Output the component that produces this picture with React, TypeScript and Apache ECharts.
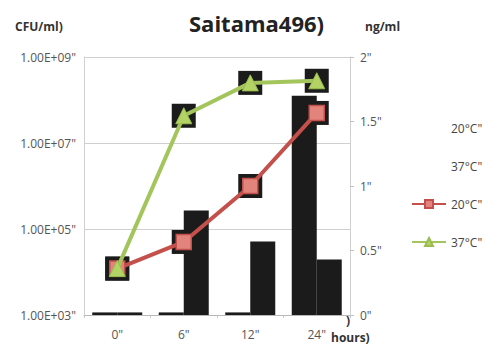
import React, { useEffect, useRef } from "react";
import * as echarts from "echarts";

// Sampling times (hours)
const categories = ['0"', '6"', '12"', '24"'];

// Toxin concentration, ng/ml (right axis, bars)
const toxin20 = [0.02, 0.02, 0.02, 1.7];
const toxin37 = [0.02, 0.81, 0.57, 0.43];

// Viable count, CFU/ml (left log axis, lines)
const cfu20 = [1.2e4, 5e4, 1e6, 5e7];
const cfu37 = [1.2e4, 4.3e7, 2.5e8, 2.8e8];

// Right axis tick labels
const rightTicks: Record<string, string> = {
  "0": '0"',
  "0.5": '0.5"',
  "1": '1"',
  "1.5": '1.5"',
  "2": '2"',
};

const legendLabels: Record<string, string> = {
  toxin20: '20°C"',
  toxin37: '37°C"',
  cfu20: '20°C"',
  cfu37: '37°C"',
};

const FONT = "'Open Sans', 'DejaVu Sans', sans-serif";
const RED = "#c4504b";
const GREEN = "#a3c55c";
const BAR = "#1b1b1b";

export default function App() {
  const ref = useRef<HTMLDivElement>(null);

  useEffect(() => {
    if (!ref.current) return;
    document.body.style.margin = "0";
    const chart = echarts.init(ref.current, undefined, { renderer: "svg" });

    chart.setOption({
      animation: false,
      backgroundColor: "#ffffff",
      textStyle: { fontFamily: FONT },
      title: {
        text: "Saitama496)",
        left: 184,
        top: 7,
        textStyle: { fontFamily: FONT, fontSize: 22, fontWeight: "bold", color: "#222" },
      },
      legend: {
        orient: "vertical",
        left: 406,
        top: 117,
        itemWidth: 34,
        itemHeight: 10,
        itemGap: 26,
        textStyle: { fontFamily: FONT, fontSize: 12, color: "#444" },
        formatter: (name: string) => legendLabels[name] ?? name,
        data: [
          { name: "toxin20", itemStyle: { opacity: 0 } },
          { name: "toxin37", itemStyle: { opacity: 0 } },
          "cfu20",
          "cfu37",
        ],
      },
      grid: { left: 84, right: 134, top: 57, bottom: 38 },
      xAxis: {
        type: "category",
        data: categories,
        boundaryGap: true,
        axisLine: { lineStyle: { color: "#b8b8b8" } },
        axisTick: { show: true, length: 3, lineStyle: { color: "#c8c8c8" } },
        axisLabel: { color: "#555", fontSize: 12, margin: 13 },
      },
      yAxis: [
        {
          type: "log",
          logBase: 10,
          min: 1e3,
          max: 1e9,
          interval: 1,
          axisLine: { show: true, lineStyle: { color: "#d0d0d0" } },
          axisTick: { show: false },
          axisLabel: {
            color: "#555",
            fontSize: 12,
            margin: 8,
            formatter: (v: number) => {
              const e = Math.round(Math.log10(v));
              return e % 2 === 1 ? `1.00E+0${e}"` : "";
            },
          },
          splitLine: {
            show: true,
            lineStyle: { color: ["#cfcfcf", "rgba(0,0,0,0)"], width: 1 },
          },
        },
        {
          type: "value",
          min: 0,
          max: 2,
          interval: 0.5,
          position: "right",
          axisLine: { show: true, lineStyle: { color: "#d0d0d0" } },
          axisTick: { show: true, length: 4, lineStyle: { color: "#c0c0c0" } },
          axisLabel: {
            color: "#555",
            fontSize: 12,
            margin: 10,
            formatter: (v: number) => rightTicks[String(v)] ?? String(v),
          },
          splitLine: { show: false },
        },
      ],
      graphic: [
        {
          type: "text",
          left: 15,
          top: 20,
          style: { text: "CFU/ml)", font: `bold 12px ${FONT}`, fill: "#333" },
        },
        {
          type: "text",
          left: 365,
          top: 20,
          style: { text: "ng/ml", font: `bold 12px ${FONT}`, fill: "#333" },
        },
        {
          type: "text",
          left: 346,
          top: 314,
          style: { text: ")", font: `bold 12px ${FONT}`, fill: "#333" },
        },
        {
          type: "text",
          left: 331,
          top: 331,
          style: { text: "hours)", font: `bold 12px ${FONT}`, fill: "#333" },
        },
      ],
      series: [
        {
          name: "toxin20",
          type: "bar",
          yAxisIndex: 1,
          data: toxin20,
          barWidth: 25,
          barGap: "0%",
          itemStyle: { color: BAR },
          z: 1,
        },
        {
          name: "toxin37",
          type: "bar",
          yAxisIndex: 1,
          data: toxin37,
          barWidth: 25,
          barGap: "0%",
          itemStyle: { color: BAR },
          z: 1,
        },
        // dark square backing under each marker
        {
          name: "back20",
          type: "scatter",
          yAxisIndex: 0,
          data: cfu20,
          symbol: "rect",
          symbolSize: 24,
          itemStyle: { color: BAR, opacity: 1 },
          z: 2,
        },
        {
          name: "back37",
          type: "scatter",
          yAxisIndex: 0,
          data: cfu37,
          symbol: "rect",
          symbolSize: 24,
          itemStyle: { color: BAR, opacity: 1 },
          z: 2,
        },
        {
          name: "cfu20",
          type: "line",
          yAxisIndex: 0,
          data: cfu20,
          symbol: "rect",
          symbolSize: 15,
          lineStyle: { color: RED, width: 4 },
          itemStyle: { color: "#e2837c", borderColor: RED, borderWidth: 1.5 },
          z: 3,
        },
        {
          name: "cfu37",
          type: "line",
          yAxisIndex: 0,
          data: cfu37,
          symbol: "triangle",
          symbolSize: 16,
          lineStyle: { color: GREEN, width: 4 },
          itemStyle: { color: "#b3d465", borderColor: "#9bbd50", borderWidth: 1 },
          z: 4,
        },
      ],
    });

    return () => chart.dispose();
  }, []);

  return <div ref={ref} style={{ width: 484, height: 353 }} />;
}
